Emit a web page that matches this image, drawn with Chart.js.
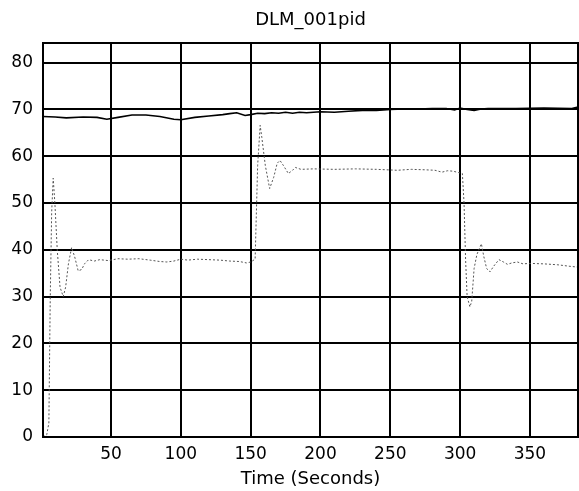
<!DOCTYPE html>
<html>
<head>
<meta charset="utf-8">
<script src="https://cdn.jsdelivr.net/npm/chart.js@4/dist/chart.umd.min.js"></script>
<style>
  html, body { margin: 0; padding: 0; background: #fff; }
  #box { width: 579px; height: 491px; }
</style>
</head>
<body>
<div id="box"><canvas id="myChart"></canvas></div>
<script>
//================================data========================================
const chartTitle = 'DLM_001pid';
const xTitle = 'Time (Seconds)';

// dotted trace (process response)
const pvTime = [1.3, 4, 5.5, 6.5, 7.5, 8.6, 9.8, 11.5, 13.5, 15.8, 17.5, 19.5, 21.8, 24, 26.5, 29, 31, 34, 38, 42,
    48, 55, 62, 70, 78, 85, 90, 95, 100, 105, 112, 120, 128, 135, 142, 147, 150, 153.2, 155, 156.8,
    158, 160.5, 163.6, 166.5, 169, 171, 173.5, 177, 180, 182, 186, 195, 210, 225, 240, 255, 265, 275, 282, 287,
    291, 295, 299, 301.6, 302.8, 303.9, 305, 307, 308.3, 310, 312, 315.2, 317, 319, 321.4, 324, 327.8, 331, 333.9, 337,
    341, 345, 350, 360, 370, 378, 384.4];
const pvValue = [0, 0.5, 3, 30, 48, 55.3, 50, 40, 32, 30, 32, 37, 40.5, 38.5, 35.5, 35.8, 37, 37.9, 37.6, 37.9,
    37.7, 38.1, 38.0, 38.1, 37.8, 37.5, 37.4, 37.6, 38.0, 37.8, 38.0, 37.9, 37.8, 37.6, 37.5, 37.2, 37.4, 38, 58, 66.6,
    64, 58, 53.1, 55.5, 58.5, 59.1, 58, 56.3, 57, 57.6, 57.2, 57.3, 57.2, 57.3, 57.2, 57.0, 57.2, 57.1, 57.0, 56.6,
    56.9, 56.8, 56.5, 56.3, 50, 38, 30, 27.8, 29, 36, 39, 41.3, 38.5, 36, 35.3, 36.5, 37.9, 37.4, 36.9, 37.2,
    37.4, 37.0, 37.1, 37.0, 36.8, 36.5, 36.3];

// solid trace near 70
const outTime = [1.3, 10, 18, 30, 40, 47, 55, 65, 75, 85, 95, 100, 110, 120, 130, 135, 140, 146, 150, 155,
    160, 165, 170, 175, 180, 185, 190, 200, 210, 220, 230, 240, 250, 260, 270, 280, 290, 296, 300, 305,
    310, 315, 320, 340, 360, 380, 384.4];
const outValue = [68.5, 68.4, 68.2, 68.4, 68.3, 67.9, 68.3, 68.8, 68.8, 68.5, 67.9, 67.8, 68.3, 68.6, 68.9, 69.1, 69.3, 68.7, 68.9, 69.2,
    69.1, 69.3, 69.2, 69.4, 69.2, 69.4, 69.3, 69.5, 69.4, 69.6, 69.8, 69.8, 70.0, 70.1, 70.1, 70.2, 70.2, 69.9, 70.3, 70.0,
    69.8, 70.1, 70.2, 70.2, 70.3, 70.2, 70.5];

// tick labels shown on each axis
const xTicks = [50, 100, 150, 200, 250, 300, 350];
const yTicks = [0, 10, 20, 30, 40, 50, 60, 70, 80];

const xMin = 1.3, xMax = 384.4;
const yMin = 0, yMax = 84.2;

//================================chart========================================
function toPoints(xs, ys) {
    let pts = [];
    for (let i = 0; i < xs.length; i++) {
        pts.push({x: xs[i], y: ys[i]});
    }
    return pts;
}

// outer box + title, drawn over the plot
const frame = {
    id: 'frame',
    afterDraw(chart) {
        const {ctx, chartArea: a} = chart;
        ctx.save();
        ctx.strokeStyle = '#000';
        ctx.lineWidth = 2;
        ctx.strokeRect(a.left, a.top, a.right - a.left, a.bottom - a.top);
        ctx.fillStyle = '#000';
        ctx.font = '18px "DejaVu Sans"';
        ctx.textAlign = 'center';
        ctx.textBaseline = 'middle';
        ctx.fillText(chartTitle, (a.left + a.right) / 2, 20);
        ctx.restore();
    }
};

const ctx = document.getElementById('myChart');
const chart = new Chart(ctx, {
    type: 'line',
    data: {
        datasets: [{
            label: 'output',
            data: toPoints(outTime, outValue),
            borderColor: '#000',
            borderWidth: 1.6,
            pointRadius: 0,
            tension: 0
        }, {
            label: 'response',
            data: toPoints(pvTime, pvValue),
            borderColor: '#555',
            borderWidth: 1,
            borderDash: [2, 2],
            pointRadius: 0,
            tension: 0
        }]
    },
    options: {
        responsive: true,
        maintainAspectRatio: false,
        animation: false,
        layout: { padding: { top: 43, right: 1, left: 0, bottom: 0 } },
        plugins: {
            legend: { display: false },
            tooltip: { enabled: false }
        },
        scales: {
            x: {
                type: 'linear',
                min: xMin,
                max: xMax,
                afterBuildTicks: (s) => { s.ticks = xTicks.map(v => ({value: v})); },
                afterFit: (s) => { s.height = 54; },
                ticks: {
                    color: '#000',
                    padding: 7,
                    maxRotation: 0,
                    autoSkip: false,
                    font: { family: 'DejaVu Sans', size: 17 }
                },
                grid: { color: '#000', lineWidth: 2, drawTicks: false },
                border: { color: '#000', width: 2 },
                title: {
                    display: true,
                    text: xTitle,
                    color: '#000',
                    font: { family: 'DejaVu Sans', size: 18 },
                    padding: { top: 0, bottom: 1 }
                }
            },
            y: {
                min: yMin,
                max: yMax,
                afterBuildTicks: (s) => { s.ticks = yTicks.map(v => ({value: v})); },
                afterFit: (s) => { s.width = 43; },
                ticks: {
                    color: '#000',
                    padding: 10,
                    autoSkip: false,
                    font: { family: 'DejaVu Sans', size: 17 }
                },
                grid: { color: '#000', lineWidth: 2, drawTicks: false },
                border: { color: '#000', width: 2 }
            }
        }
    },
    plugins: [frame]
});
</script>
</body>
</html>
